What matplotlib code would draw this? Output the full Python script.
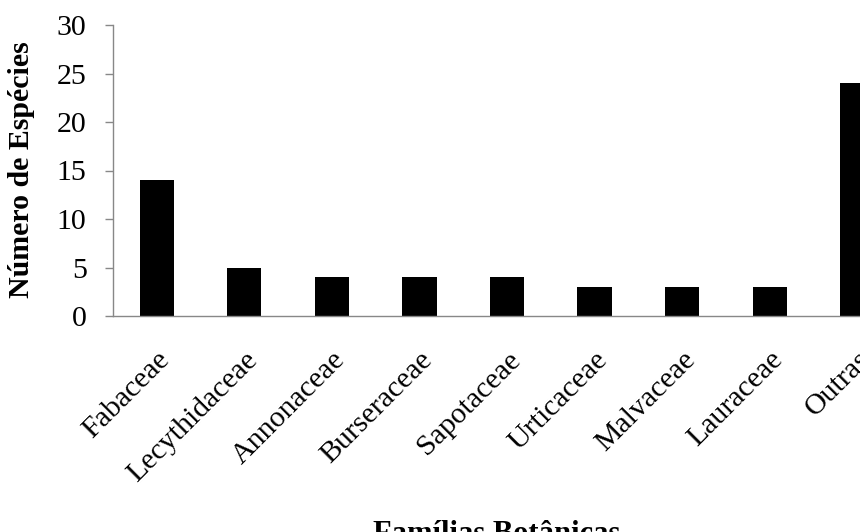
import matplotlib
matplotlib.use("Agg")
import matplotlib.pyplot as plt

families = ["Fabaceae", "Lecythidaceae", "Annonaceae", "Burseraceae", "Sapotaceae",
            "Urticaceae", "Malvaceae", "Lauraceae", "Outras"]
species = [14, 5, 4, 4, 4, 3, 3, 3, 24]
yticks = [0, 5, 10, 15, 20, 25, 30]

plt.rcParams['font.family'] = ['Liberation Serif', 'DejaVu Serif']

W, H = 860, 532
fig = plt.figure(figsize=(W / 100, H / 100), dpi=100)
left, right, bottom, top = 113, 901, 316, 25
ax = fig.add_axes([left / W, (H - bottom) / H, (right - left) / W, (bottom - top) / H])

x = list(range(len(families)))
ax.bar(x, species, width=0.39, color='black')
ax.set_xlim(-0.5, len(families) - 0.5)
ax.set_ylim(0, 30)
ax.set_yticks(yticks)
ax.set_yticklabels([str(v) for v in yticks], fontsize=21.5)
ax.set_xticks(x)
ax.set_xticklabels(families, rotation=45, ha='right', rotation_mode='anchor', fontsize=21.5)
ax.tick_params(axis='x', length=0, pad=22)
ax.tick_params(axis='y', length=6, width=1, color='#888888', pad=13)

for s in ['top', 'right']:
    ax.spines[s].set_visible(False)
for s in ['left', 'bottom']:
    ax.spines[s].set_color('#888888')
    ax.spines[s].set_linewidth(1)

fig.text(22 / W, (H - 170) / H, "Número de Espécies", rotation=90, fontsize=21.5,
         fontweight='bold', ha='center', va='center')
fig.text(497 / W, (H - 520) / H, "Famílias Botânicas", fontsize=22,
         fontweight='bold', ha='center', va='top')

fig.savefig("out.png", dpi=100)
